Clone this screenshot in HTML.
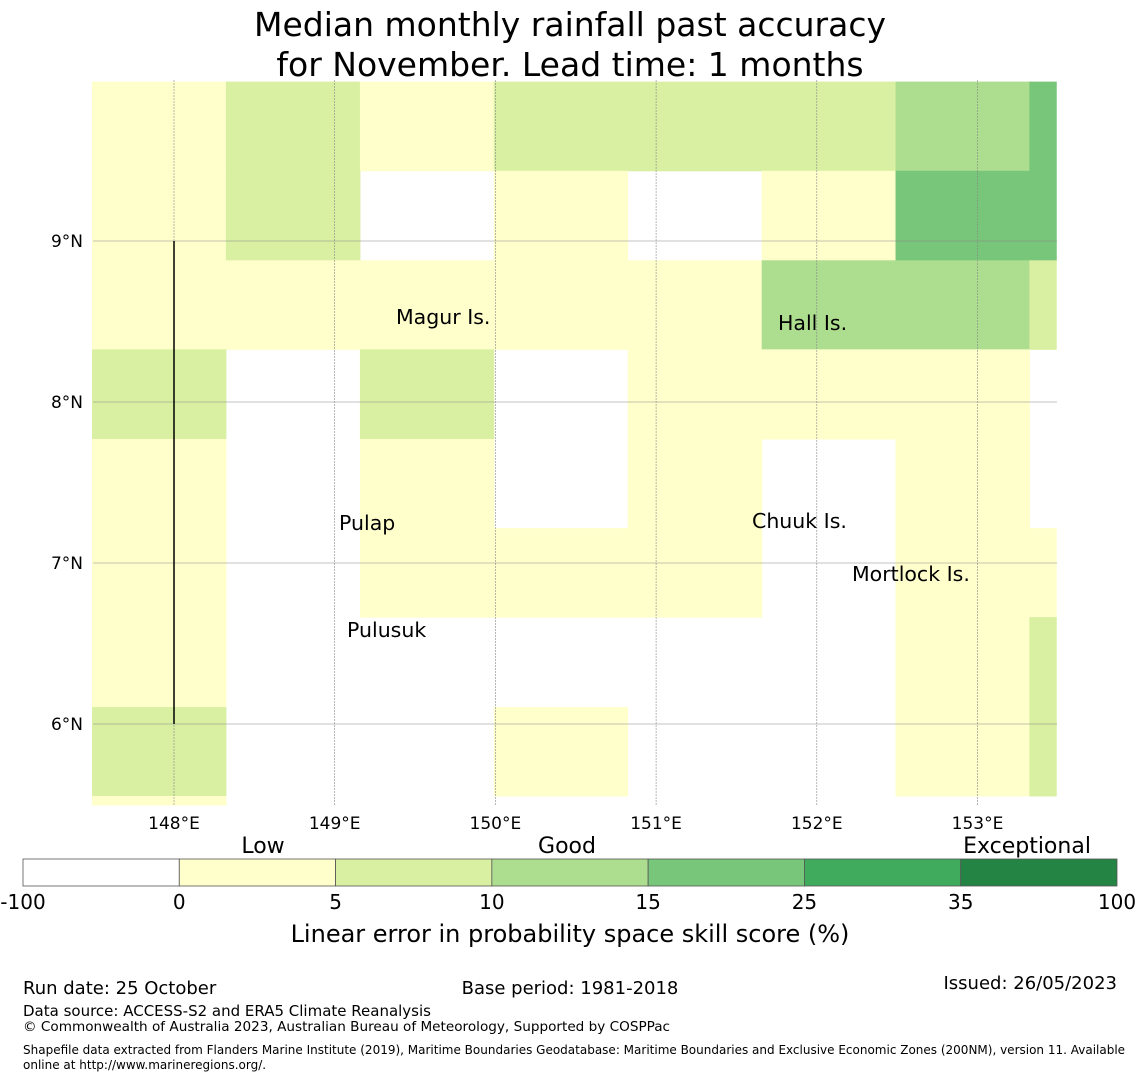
<!DOCTYPE html>
<html><head><meta charset="utf-8"><style>
body{margin:0;background:#fff;width:1140px;height:1080px;overflow:hidden;font-family:"Liberation Sans","DejaVu Sans",sans-serif}
svg text{font-family:"DejaVu Sans","Liberation Sans",sans-serif}
</style></head><body>
<svg id="chart" width="1140" height="1080">
<text x="570" y="36" font-size="33" text-anchor="middle">Median monthly rainfall past accuracy</text>
<text x="570" y="76" font-size="33" text-anchor="middle">for November. Lead time: 1 months</text>
<g id="cells"></g>
<g id="grid"></g>
<line x1="174" y1="241" x2="174" y2="724" stroke="#000" stroke-width="1.5"/>
<g font-size="20.5" fill="#000">
<text x="396" y="324">Magur Is.</text>
<text x="778" y="330">Hall Is.</text>
<text x="339" y="530">Pulap</text>
<text x="752" y="528">Chuuk Is.</text>
<text x="852" y="581">Mortlock Is.</text>
<text x="347" y="637">Pulusuk</text>
</g>
<g id="cbar"></g>
<text x="263" y="853" font-size="22" text-anchor="middle">Low</text>
<text x="567" y="853" font-size="22" text-anchor="middle">Good</text>
<text x="1027" y="853" font-size="22" text-anchor="middle">Exceptional</text>
<text x="570" y="942" font-size="24" text-anchor="middle">Linear error in probability space skill score (%)</text>
<g font-size="15">
<text x="23" y="994" font-size="18">Run date: 25 October</text>
<text x="570" y="994" font-size="18" text-anchor="middle">Base period: 1981-2018</text>
<text x="1117" y="989" font-size="18" text-anchor="end">Issued: 26/05/2023</text>
<text x="23" y="1016">Data source: ACCESS-S2 and ERA5 Climate Reanalysis</text>
<text x="23" y="1031" font-size="13.6">© Commonwealth of Australia 2023, Australian Bureau of Meteorology, Supported by COSPPac</text>
<text x="23" y="1054" font-size="12">Shapefile data extracted from Flanders Marine Institute (2019), Maritime Boundaries Geodatabase: Maritime Boundaries and Exclusive Economic Zones (200NM), version 11. Available</text>
<text x="23" y="1069" font-size="12">online at http://www.marineregions.org/.</text>
</g>
</svg>
<script>
const colEdges=[147.49,148.323,149.157,149.99,150.823,151.657,152.49,153.323,153.49];
const rowEdges=[9.99,9.436,8.88,8.327,7.77,7.217,6.664,6.105,5.553,5.497];
// skill score estimates per cell (rows top->bottom, cols left->right); -1 = none
const skill=[
[2,7,2,7,7,7,12,20],
[2,7,-1,2,-1,2,20,20],
[2,2,2,2,2,12,12,7],
[7,-1,7,-1,2,2,2,-1],
[2,-1,2,-1,2,-1,2,-1],
[2,-1,2,2,2,-1,2,2],
[2,-1,-1,-1,-1,-1,2,7],
[7,-1,-1,2,-1,-1,2,7],
[2,-1,-1,-1,-1,-1,-1,-1]];
const binEdges=[-100,0,5,10,15,25,35,100];
const binColors=["#ffffff","#ffffcc","#d9f0a3","#addd8e","#78c679","#41ab5d","#238443"];
const lonTicks=[148,149,150,151,152,153];
const latTicks=[9,8,7,6];
const NS="http://www.w3.org/2000/svg";
const xS=lon=>174+(lon-148)*160.7;
const yS=lat=>241+(9-lat)*161;
function colorOf(v){for(let i=binEdges.length-2;i>=0;i--){if(v>=binEdges[i])return binColors[i];}return "#fff";}
const cells=document.getElementById('cells');
skill.forEach((row,r)=>row.forEach((v,c)=>{
 if(v<0)return;
 const el=document.createElementNS(NS,'rect');
 const x0=xS(colEdges[c]),x1=xS(colEdges[c+1]),y0=yS(rowEdges[r]),y1=yS(rowEdges[r+1]);
 el.setAttribute('x',x0);el.setAttribute('y',y0);el.setAttribute('width',x1-x0+0.5);el.setAttribute('height',y1-y0+0.5);
 el.setAttribute('fill',colorOf(v));
 
 
 cells.appendChild(el);
}));
const grid=document.getElementById('grid');
lonTicks.forEach(l=>{
 const x=xS(l);
 const ln=document.createElementNS(NS,'line');
 ln.setAttribute('x1',x);ln.setAttribute('x2',x);ln.setAttribute('y1',80);ln.setAttribute('y2',805);
 ln.setAttribute('stroke','#888');ln.setAttribute('stroke-width','0.6');ln.setAttribute('stroke-dasharray','2,1');
 
 
 grid.appendChild(ln);
 const t=document.createElementNS(NS,'text');
 t.setAttribute('x',x);t.setAttribute('y',829);t.setAttribute('font-size','17');t.setAttribute('text-anchor','middle');
 t.textContent=l+'°E';
 
 
 grid.appendChild(t);
});
latTicks.forEach(l=>{
 const y=yS(l);
 const ln=document.createElementNS(NS,'line');
 ln.setAttribute('x1',93);ln.setAttribute('x2',1057);ln.setAttribute('y1',y);ln.setAttribute('y2',y);
 ln.setAttribute('stroke','#888');ln.setAttribute('stroke-width','0.6');
 
 
 grid.appendChild(ln);
 const t=document.createElementNS(NS,'text');
 t.setAttribute('x',83);t.setAttribute('y',y+6);t.setAttribute('font-size','17');t.setAttribute('text-anchor','end');
 t.textContent=l+'°N';
 
 
 grid.appendChild(t);
});
const cbar=document.getElementById('cbar');
const segW=(1117-23)/binColors.length;
binColors.forEach((c,i)=>{
 const r=document.createElementNS(NS,'rect');
 r.setAttribute('x',23+i*segW);r.setAttribute('y',859);r.setAttribute('width',segW);r.setAttribute('height',27);
 r.setAttribute('fill',c);r.setAttribute('stroke','#555');r.setAttribute('stroke-width','0.8');
 
 
 cbar.appendChild(r);
});
binEdges.forEach((b,i)=>{
 const t=document.createElementNS(NS,'text');
 t.setAttribute('x',23+i*segW);t.setAttribute('y',909);t.setAttribute('font-size','20');t.setAttribute('text-anchor','middle');
 t.textContent=b;
 
 
 cbar.appendChild(t);
});
</script>
</body></html>
